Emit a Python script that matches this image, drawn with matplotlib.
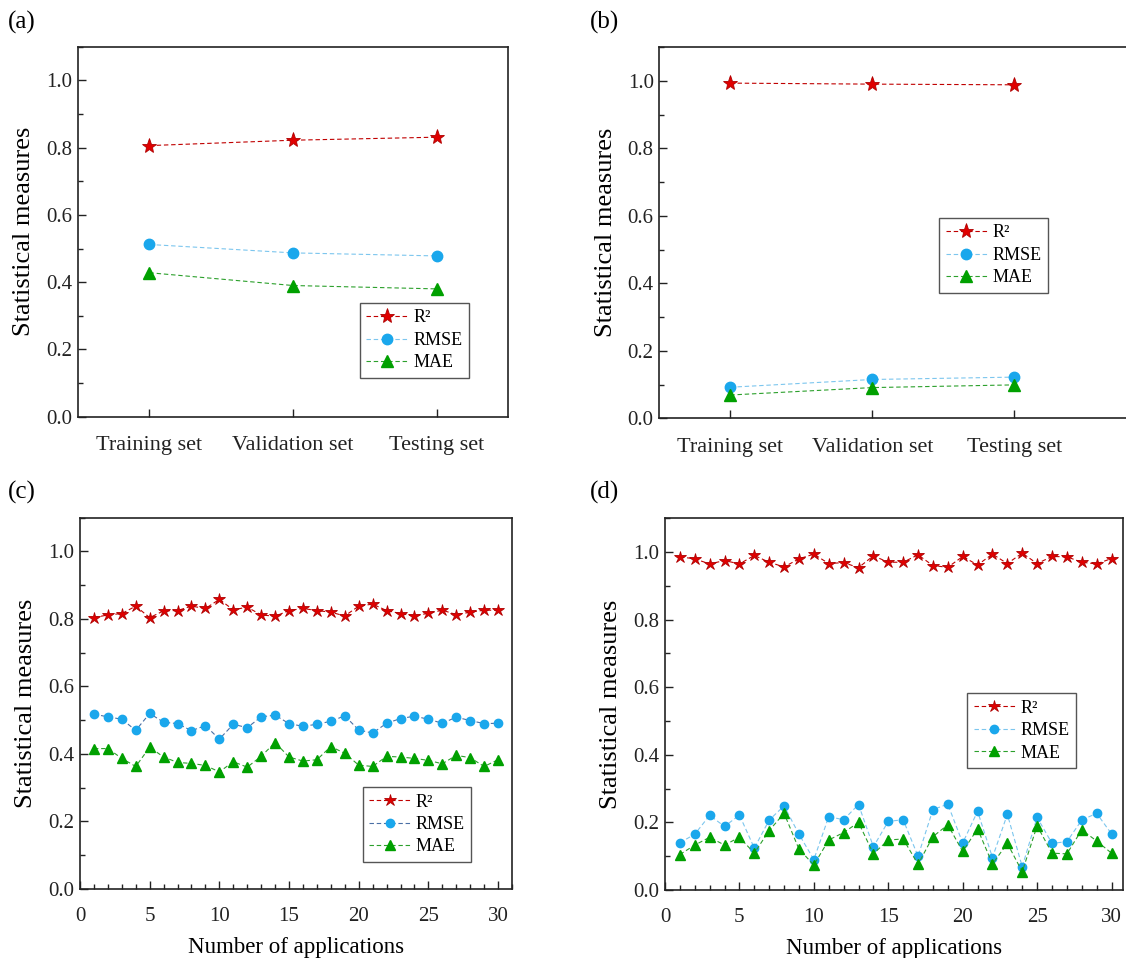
import matplotlib.pyplot as plt
import numpy as np
from matplotlib.ticker import MultipleLocator, FormatStrFormatter

plt.rcParams['font.family'] = ['Liberation Serif', 'DejaVu Serif']

# ---- data ----
sets = ['Training set', 'Validation set', 'Testing set']
r2_a = [0.806, 0.822, 0.831]
rmse_a = [0.512, 0.487, 0.478]
mae_a = [0.428, 0.390, 0.380]

r2_b = [0.993, 0.990, 0.988]
rmse_b = [0.092, 0.115, 0.122]
mae_b = [0.069, 0.091, 0.099]

runs = np.arange(1, 31)
r2_c = [0.804, 0.812, 0.816, 0.838, 0.804, 0.824, 0.825, 0.838, 0.831, 0.858,
        0.827, 0.835, 0.812, 0.808, 0.825, 0.831, 0.825, 0.820, 0.809, 0.838,
        0.844, 0.825, 0.816, 0.809, 0.817, 0.826, 0.813, 0.820, 0.826, 0.826]
rmse_c = [0.518, 0.510, 0.503, 0.470, 0.520, 0.494, 0.490, 0.469, 0.484, 0.444,
          0.488, 0.478, 0.510, 0.515, 0.490, 0.482, 0.488, 0.497, 0.513, 0.471,
          0.462, 0.491, 0.505, 0.512, 0.503, 0.491, 0.509, 0.499, 0.490, 0.491]
mae_c = [0.416, 0.416, 0.387, 0.363, 0.420, 0.391, 0.375, 0.372, 0.366, 0.347,
         0.377, 0.361, 0.393, 0.434, 0.391, 0.379, 0.383, 0.422, 0.402, 0.367,
         0.363, 0.393, 0.391, 0.387, 0.381, 0.371, 0.396, 0.389, 0.363, 0.383]

r2_d = [0.986, 0.980, 0.965, 0.975, 0.965, 0.990, 0.970, 0.956, 0.980, 0.994,
        0.966, 0.969, 0.954, 0.989, 0.970, 0.970, 0.992, 0.960, 0.955, 0.987,
        0.962, 0.994, 0.966, 0.997, 0.966, 0.987, 0.986, 0.970, 0.965, 0.981]
rmse_d = [0.140, 0.165, 0.221, 0.188, 0.222, 0.124, 0.207, 0.249, 0.165, 0.090,
          0.217, 0.208, 0.253, 0.128, 0.203, 0.208, 0.100, 0.238, 0.254, 0.139,
          0.233, 0.096, 0.224, 0.069, 0.215, 0.138, 0.143, 0.207, 0.227, 0.166]
mae_d = [0.105, 0.133, 0.156, 0.133, 0.156, 0.109, 0.176, 0.227, 0.121, 0.074,
         0.148, 0.170, 0.200, 0.107, 0.148, 0.151, 0.076, 0.158, 0.193, 0.114,
         0.181, 0.077, 0.138, 0.054, 0.190, 0.109, 0.107, 0.178, 0.145, 0.109]

W, H = 1126, 958
fig = plt.figure(figsize=(W / 100, H / 100), dpi=100)


def make_axes(left, right, top, bottom):
    return fig.add_axes([left / W, 1 - bottom / H, (right - left) / W, (bottom - top) / H])


def style(ax):
    ax.set_ylim(0, 1.1)
    ax.yaxis.set_major_locator(MultipleLocator(0.2))
    ax.yaxis.set_minor_locator(MultipleLocator(0.1))
    ax.yaxis.set_major_formatter(FormatStrFormatter('%.1f'))
    ax.tick_params(which='both', direction='in', width=1, colors='#222222')
    ax.tick_params(which='major', length=6)
    ax.tick_params(which='minor', length=3.5)
    ax.tick_params(axis='y', labelsize=15, pad=4)
    ax.tick_params(axis='x', pad=14)
    for sp in ax.spines.values():
        sp.set_linewidth(1.2)
        sp.set_color('#222222')
    ax.set_ylabel('Statistical measures', fontsize=19, labelpad=8)


def draw(ax, x, r2, rmse, mae, big, rmse_line):
    ms_star, ms, ms_tri = (11, 7.5, 8) if big else (9, 6, 6.5)
    ax.plot(x, r2, '--', color='#c00000', lw=0.8, dashes=(4, 2.5),
            marker='*', ms=ms_star, mfc='#e00000', mec='#b00000', mew=0.6, label='R²')
    ax.plot(x, rmse, '--', color=rmse_line, lw=0.8, dashes=(4, 2.5),
            marker='o', ms=ms, mfc='#1aa7ec', mec='#1aa7ec', label='RMSE')
    ax.plot(x, mae, '--', color='#2ca02c', lw=0.8, dashes=(4, 2.5),
            marker='^', ms=ms_tri, mfc='#00a000', mec='#00a000', label='MAE')


def legend(ax, x, y):
    leg = ax.legend(loc='upper left', bbox_to_anchor=(x, y), fontsize=13,
                    fancybox=False, framealpha=1, edgecolor='#555555',
                    handlelength=2.3, labelspacing=0.3, borderpad=0.35,
                    handletextpad=0.3, borderaxespad=0)
    leg.get_frame().set_linewidth(1.0)


# (a)
ax_a = make_axes(77.7, 508.3, 46.7, 416.7)
draw(ax_a, [1, 2, 3], r2_a, rmse_a, mae_a, True, '#7cc6ee')
style(ax_a)
ax_a.set_xlim(0.5, 3.5)
ax_a.set_xticks([1, 2, 3])
ax_a.set_xticklabels(sets, fontsize=16)
legend(ax_a, 0.656, 0.307)

# (b)
ax_b = make_axes(659.3, 1130, 47, 418.3)
draw(ax_b, [1, 2, 3], r2_b, rmse_b, mae_b, True, '#7cc6ee')
style(ax_b)
ax_b.set_xlim(0.5, 3.815)
ax_b.set_xticks([1, 2, 3])
ax_b.set_xticklabels(sets, fontsize=16)
legend(ax_b, 0.595, 0.539)

# (c)
ax_c = make_axes(80, 512, 517.7, 889)
draw(ax_c, runs, r2_c, rmse_c, mae_c, False, '#4a6fa5')
style(ax_c)
ax_c.set_xlim(0, 31)
ax_c.xaxis.set_major_locator(MultipleLocator(5))
ax_c.xaxis.set_minor_locator(MultipleLocator(1))
ax_c.tick_params(axis='x', labelsize=15, pad=13)
ax_c.set_xlabel('Number of applications', fontsize=16.5, labelpad=8)
legend(ax_c, 0.654, 0.274)

# (d)
ax_d = make_axes(665, 1123, 518.3, 890)
draw(ax_d, runs, r2_d, rmse_d, mae_d, False, '#7cc6ee')
style(ax_d)
ax_d.set_xlim(0, 30.77)
ax_d.xaxis.set_major_locator(MultipleLocator(5))
ax_d.xaxis.set_minor_locator(MultipleLocator(1))
ax_d.tick_params(axis='x', labelsize=15, pad=13)
ax_d.set_xlabel('Number of applications', fontsize=16.5, labelpad=8)
legend(ax_d, 0.66, 0.529)

for lab, px, py in [('(a)', 8, 22), ('(b)', 590, 22), ('(c)', 8, 492), ('(d)', 590, 492)]:
    fig.text(px / W, 1 - py / H, lab, fontsize=18, va='center', ha='left')

fig.savefig('out.png', dpi=100)
